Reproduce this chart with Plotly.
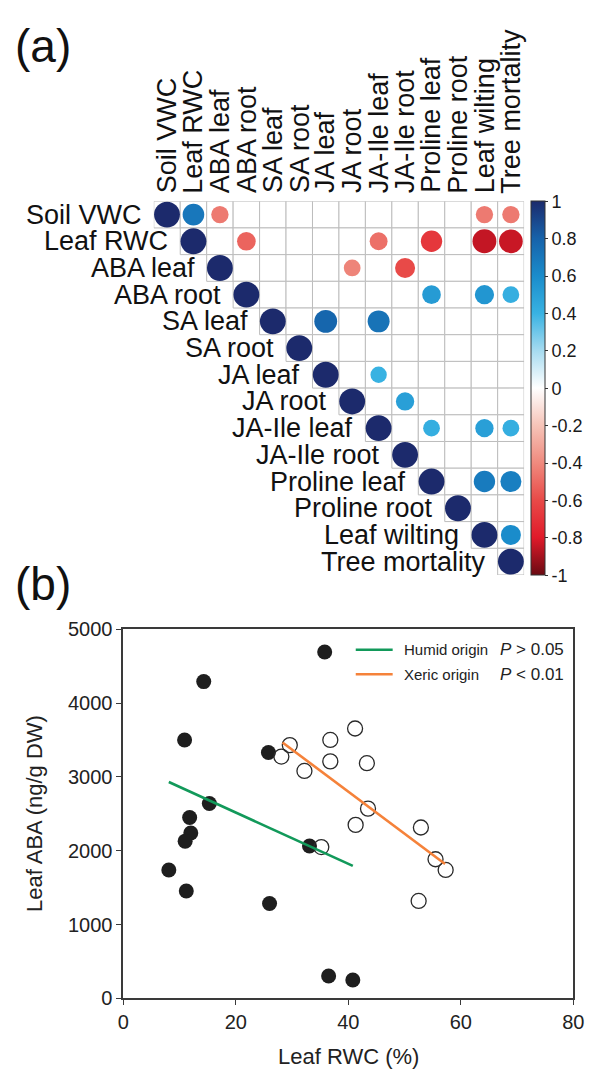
import plotly.graph_objects as go
import math

W, H = 597, 1080

# ---------------- Data: panel (a) correlation matrix ----------------
variables = ["Soil VWC", "Leaf RWC", "ABA leaf", "ABA root", "SA leaf", "SA root",
             "JA leaf", "JA root", "JA-Ile leaf", "JA-Ile root", "Proline leaf",
             "Proline root", "Leaf wilting", "Tree mortality"]

# upper triangle (0 = not significant / blank)
corr = [
    [1, 0.70, -0.45, 0, 0, 0, 0, 0, 0, 0, 0, 0, -0.45, -0.45],
    [0, 1, 0, -0.52, 0, 0, 0, 0, -0.48, 0, -0.68, 0, -0.85, -0.84],
    [0, 0, 1, 0, 0, 0, 0, -0.42, 0, -0.60, 0, 0, 0, 0],
    [0, 0, 0, 1, 0, 0, 0, 0, 0, 0, 0.52, 0, 0.55, 0.42],
    [0, 0, 0, 0, 1, 0, 0.78, 0, 0.72, 0, 0, 0, 0, 0],
    [0, 0, 0, 0, 0, 1, 0, 0, 0, 0, 0, 0, 0, 0],
    [0, 0, 0, 0, 0, 0, 1, 0, 0.40, 0, 0, 0, 0, 0],
    [0, 0, 0, 0, 0, 0, 0, 1, 0, 0.50, 0, 0, 0, 0],
    [0, 0, 0, 0, 0, 0, 0, 0, 1, 0, 0.42, 0, 0.50, 0.42],
    [0, 0, 0, 0, 0, 0, 0, 0, 0, 1, 0, 0, 0, 0],
    [0, 0, 0, 0, 0, 0, 0, 0, 0, 0, 1, 0, 0.68, 0.66],
    [0, 0, 0, 0, 0, 0, 0, 0, 0, 0, 0, 1, 0, 0],
    [0, 0, 0, 0, 0, 0, 0, 0, 0, 0, 0, 0, 1, 0.60],
    [0, 0, 0, 0, 0, 0, 0, 0, 0, 0, 0, 0, 0, 1],
]

cbar_ticks = [1, 0.8, 0.6, 0.4, 0.2, 0, -0.2, -0.4, -0.6, -0.8, -1]
cbar_labels = ["1", "0.8", "0.6", "0.4", "0.2", "0", "-0.2", "-0.4", "-0.6", "-0.8", "-1"]

# ---------------- Data: panel (b) scatter ----------------
humid_rwc = [35.8, 14.3, 10.9, 25.8, 15.3, 11.8, 12.0, 11.0, 33.1, 8.1, 11.2, 26.0, 36.5, 40.8]
humid_aba = [4690, 4290, 3500, 3330, 2640, 2450, 2240, 2130, 2065, 1740, 1455, 1285, 305, 250]
xeric_rwc = [29.6, 28.1, 32.2, 36.8, 36.8, 41.2, 43.3, 43.5, 41.3, 52.9, 35.2, 55.5, 57.3, 52.5]
xeric_aba = [3430, 3275, 3080, 3500, 3210, 3655, 3185, 2570, 2350, 2315, 2050, 1885, 1740, 1320]
humid_fit_x = [8.1, 40.8]
humid_fit_y = [2930, 1795]
xeric_fit_x = [28.3, 57.2]
xeric_fit_y = [3466, 1821]

legend_names = ["Humid origin", "Xeric origin"]
legend_p = ["<i>P</i> &gt; 0.05", "<i>P</i> &lt; 0.01"]
green = "#12995A"
orange = "#F5823A"

FONT = "Liberation Sans, Arial, sans-serif"

# ---------------- Geometry (pixels) ----------------
gx0, gx1 = 152.1, 533.3
gy0, gy1 = 194.2, 575.7
cell = (gx1 - gx0) / 14.0
sx0, sx1 = 120.7, 584.0
sy0, sy1 = 631.0, 1008.0

def px(x):
    return x / W

def py(y):
    return 1 - y / H

colorscale = [
    [0.0, "#6A0A12"], [0.1, "#E01A2A"], [0.2, "#E84A48"], [0.3, "#EF8A7E"],
    [0.4, "#F6C4B8"], [0.5, "#FFFFFF"], [0.6, "#A6DBF0"], [0.7, "#38B2E2"],
    [0.8, "#1A8CCB"], [0.9, "#1662AA"], [1.0, "#1C2A6C"],
]

fig = go.Figure()

# circles
cx, cy, cc, cs = [], [], [], []
n = len(variables)
for i in range(n):
    for j in range(i, n):
        r = corr[i][j]
        if r != 0:
            cx.append(j)
            cy.append(i)
            cc.append(r)
            cs.append(0.95 * cell * math.sqrt(abs(r)))

fig.add_trace(go.Scatter(
    x=cx, y=cy, mode="markers", xaxis="x2", yaxis="y2", showlegend=False,
    hoverinfo="skip", opacity=1,
    marker=dict(size=cs, color=cc, colorscale=colorscale, cmin=-1, cmax=1,
                opacity=1, line=dict(width=0),
                showscale=True,
                colorbar=dict(
                    x=px(540.7), xanchor="left", y=py(gy0), yanchor="top",
                    len=(gy1 - gy0) / H, lenmode="fraction",
                    thickness=14, thicknessmode="pixels",
                    xpad=0, ypad=0,
                    outlinewidth=1, outlinecolor="#333333",
                    tickmode="array", tickvals=cbar_ticks, ticktext=cbar_labels,
                    ticks="outside", ticklen=3, tickcolor="#333333",
                    tickfont=dict(size=18, color="#1a1a1a", family=FONT),
                ))))

# grid cells (upper triangle incl. diagonal)
shapes = []
for i in range(n):
    for j in range(i, n):
        shapes.append(dict(type="rect", xref="x2", yref="y2",
                           x0=j - 0.5, x1=j + 0.5, y0=i - 0.5, y1=i + 0.5,
                           line=dict(color="#BDBDBD", width=1),
                           fillcolor="white", layer="below"))

annotations = []
for i, name in enumerate(variables):
    annotations.append(dict(x=i - 0.5, y=i, xref="x2", yref="y2", text=name,
                            showarrow=False, xanchor="right", yanchor="middle",
                            xshift=-10, font=dict(size=27, color="#111", family=FONT)))
    annotations.append(dict(x=i, y=-0.5, xref="x2", yref="y2", text=name,
                            showarrow=False, xanchor="center", yanchor="bottom",
                            textangle=-90, yshift=6,
                            font=dict(size=27, color="#111", family=FONT)))

annotations.append(dict(x=px(7), y=py(36), xref="paper", yref="paper", text="(a)",
                        showarrow=False, xanchor="left", yanchor="middle",
                        font=dict(size=46, color="#111", family=FONT)))
annotations.append(dict(x=px(7), y=py(585), xref="paper", yref="paper", text="(b)",
                        showarrow=False, xanchor="left", yanchor="middle",
                        font=dict(size=46, color="#111", family=FONT)))

# ---------------- Panel (b) ----------------
fig.add_trace(go.Scatter(
    x=humid_rwc, y=humid_aba, mode="markers", showlegend=False, hoverinfo="skip",
    marker=dict(size=15, color="#1E1E1E", opacity=1, line=dict(width=0))))
fig.add_trace(go.Scatter(
    x=xeric_rwc, y=xeric_aba, mode="markers", showlegend=False, hoverinfo="skip",
    marker=dict(size=15, color="rgba(0,0,0,0)", opacity=1,
                line=dict(width=1.3, color="#2a2a2a"))))
fig.add_trace(go.Scatter(
    x=humid_fit_x, y=humid_fit_y, mode="lines", showlegend=False, hoverinfo="skip",
    line=dict(color=green, width=2.6)))
fig.add_trace(go.Scatter(
    x=xeric_fit_x, y=xeric_fit_y, mode="lines", showlegend=False, hoverinfo="skip",
    line=dict(color=orange, width=2.6)))

for k, (nm, pv, colr) in enumerate(zip(legend_names, legend_p, [green, orange])):
    yy = 652 + k * 25
    shapes.append(dict(type="line", xref="paper", yref="paper",
                       x0=px(360), x1=px(398), y0=py(yy), y1=py(yy),
                       line=dict(color=colr, width=2.6)))
    annotations.append(dict(x=px(408), y=py(yy), xref="paper", yref="paper", text=nm,
                            showarrow=False, xanchor="left", yanchor="middle",
                            font=dict(size=15, color="#222", family=FONT)))
    annotations.append(dict(x=px(506), y=py(yy), xref="paper", yref="paper", text=pv,
                            showarrow=False, xanchor="left", yanchor="middle",
                            font=dict(size=17, color="#222", family=FONT)))

annotations.append(dict(x=px((sx0 + sx1) / 2), y=py(1067), xref="paper", yref="paper",
                        text="Leaf RWC (%)", showarrow=False, xanchor="center",
                        yanchor="middle", font=dict(size=22, color="#222", family=FONT)))
annotations.append(dict(x=px(30), y=py((sy0 + sy1) / 2), xref="paper", yref="paper",
                        text="Leaf ABA (ng/g DW)", showarrow=False, xanchor="center",
                        yanchor="middle", textangle=-90,
                        font=dict(size=22, color="#222", family=FONT)))

axis_common = dict(showline=True, linecolor="#3a3a3a", linewidth=1.6, mirror=True,
                   ticks="outside", ticklen=5, tickwidth=1.4, tickcolor="#3a3a3a",
                   showgrid=False, zeroline=False,
                   tickfont=dict(size=20, color="#222", family=FONT))

fig.update_layout(
    width=W, height=H, margin=dict(l=0, r=0, t=0, b=0),
    paper_bgcolor="white", plot_bgcolor="white",
    showlegend=False,
    xaxis=dict(domain=[px(sx0), px(sx1)], range=[0, 80], tickvals=[0, 20, 40, 60, 80],
               anchor="y", **axis_common),
    yaxis=dict(domain=[py(sy1), py(sy0)], range=[0, 5000],
               tickvals=[0, 1000, 2000, 3000, 4000, 5000], anchor="x", **axis_common),
    xaxis2=dict(domain=[px(gx0), px(gx1)], range=[-0.5, 13.5], visible=False, anchor="y2"),
    yaxis2=dict(domain=[py(gy1), py(gy0)], range=[13.5, -0.5], visible=False, anchor="x2"),
    shapes=shapes, annotations=annotations,
    font=dict(family=FONT),
)

fig.write_html("out.html")
